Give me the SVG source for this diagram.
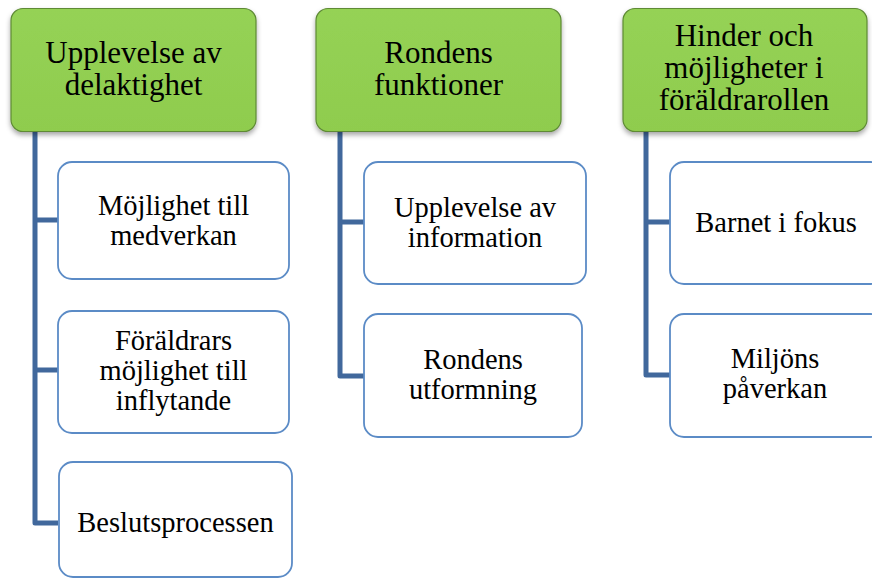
<svg xmlns="http://www.w3.org/2000/svg" width="872" height="579" viewBox="0 0 872 579">
<defs>
<linearGradient id="gGreen" x1="0" y1="0" x2="0" y2="1">
<stop offset="0" stop-color="#95D255"/>
<stop offset="1" stop-color="#8FCC4E"/>
</linearGradient>
<filter id="sh" x="-10%" y="-10%" width="120%" height="130%">
<feDropShadow dx="0" dy="3" stdDeviation="2.5" flood-color="#000" flood-opacity="0.35"/>
</filter>
</defs>
<style>
.hdr{fill:url(#gGreen);stroke:#5E8A35;stroke-width:1.2;filter:url(#sh)}
.box{fill:#FFFFFF;stroke:#5B8BC6;stroke-width:1.8}
.conn{fill:none;stroke:#41689C;stroke-width:5;stroke-linejoin:round}
text{font-family:'Liberation Serif',Tinos,'Times New Roman',Times,'Noto Serif','DejaVu Serif',serif;fill:#000;text-anchor:middle}
.ht{font-size:31px}
.ct{font-size:28.5px}
</style>
<rect width="872" height="579" fill="#FFFFFF"/>
<g id="connectors">
<path class="conn" d="M35 132 V523 H58 M35 220 H58 M35 370 H58"/>
<path class="conn" d="M340 132 V376 H364 M340 222 H364"/>
<path class="conn" d="M646 132 V375 H670 M646 222 H670"/>
</g>
<g id="h1">
<rect class="hdr" x="11" y="8.5" width="245" height="123" rx="12"/>
<text class="ht" x="133.5" y="63">Upplevelse av</text>
<text class="ht" x="133.5" y="95">delaktighet</text>
</g>
<g id="h2">
<rect class="hdr" x="316" y="8.5" width="245" height="123" rx="12"/>
<text class="ht" x="438.5" y="63">Rondens</text>
<text class="ht" x="438.5" y="95">funktioner</text>
</g>
<g id="h3">
<rect class="hdr" x="623" y="8.5" width="244" height="123" rx="12"/>
<text class="ht" x="744" y="46">Hinder och</text>
<text class="ht" x="744" y="78">möjligheter i</text>
<text class="ht" x="744" y="110">föräldrarollen</text>
</g>
<g id="c1a">
<rect class="box" x="58" y="162" width="231" height="117" rx="14"/>
<text class="ct" x="173.5" y="215">Möjlighet till</text>
<text class="ct" x="173.5" y="245">medverkan</text>
</g>
<g id="c1b">
<rect class="box" x="58" y="311" width="231" height="122" rx="14"/>
<text class="ct" x="173.5" y="350">Föräldrars</text>
<text class="ct" x="173.5" y="380">möjlighet till</text>
<text class="ct" x="173.5" y="410">inflytande</text>
</g>
<g id="c1c">
<rect class="box" x="59" y="462" width="233" height="115" rx="14"/>
<text class="ct" x="175.5" y="532">Beslutsprocessen</text>
</g>
<g id="c2a">
<rect class="box" x="364" y="162" width="222" height="122" rx="14"/>
<text class="ct" x="475" y="217">Upplevelse av</text>
<text class="ct" x="475" y="247">information</text>
</g>
<g id="c2b">
<rect class="box" x="364" y="314" width="218" height="123" rx="14"/>
<text class="ct" x="473" y="369">Rondens</text>
<text class="ct" x="473" y="399">utformning</text>
</g>
<g id="c3a">
<rect class="box" x="670" y="162" width="215" height="122" rx="14"/>
<text class="ct" x="776" y="232">Barnet i fokus</text>
</g>
<g id="c3b">
<rect class="box" x="670" y="314" width="215" height="123" rx="14"/>
<text class="ct" x="775" y="368">Miljöns</text>
<text class="ct" x="775" y="398">påverkan</text>
</g>
</svg>
